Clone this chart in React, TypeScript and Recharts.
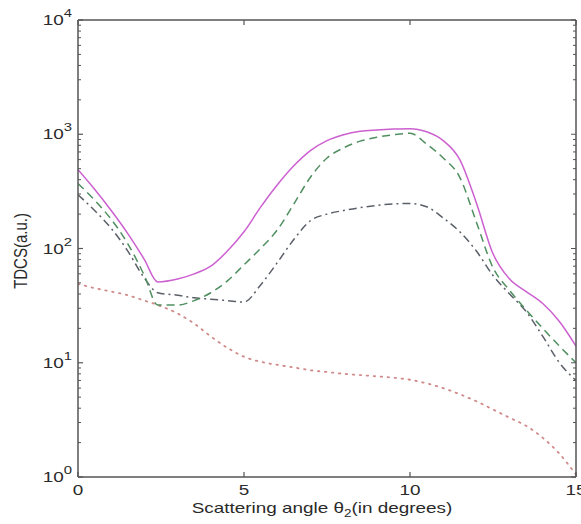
import React from 'react';
import { LineChart, Line, XAxis, YAxis } from 'recharts';

const angles = [0, 0.5, 1, 1.5, 2, 2.4, 3, 3.5, 4, 4.5, 5, 5.5, 6, 6.5, 7, 7.5, 8, 8.5, 9, 9.5, 10, 10.5, 11, 11.5, 12, 12.5, 13, 13.5, 14, 14.5, 15];
const solidSeries = [490, 330, 215, 135, 80, 51, 54, 60, 70, 95, 140, 230, 360, 530, 720, 880, 990, 1060, 1090, 1110, 1120, 1050, 880, 600, 250, 90, 54, 42, 33, 23, 14];
const dashedSeries = [370, 265, 180, 110, 58, 32, 32, 35, 41, 52, 72, 100, 145, 245, 420, 620, 760, 870, 940, 990, 1020, 820, 620, 420, 170, 68, 43, 29, 20, 14, 10];
const dashDotSeries = [295, 215, 150, 95, 55, 41, 39, 37, 36, 35, 34, 48, 75, 120, 175, 200, 215, 228, 238, 246, 248, 232, 185, 140, 95, 58, 40, 28, 17, 10, 7];
const dottedSeries = [49, 45, 42, 39, 35, 32, 27, 22, 17, 13.5, 11.3, 10.2, 9.6, 9.1, 8.6, 8.3, 8.0, 7.8, 7.6, 7.4, 7.1, 6.6, 6.0, 5.3, 4.6, 3.9, 3.3, 2.8, 2.2, 1.6, 1.05];

const xTicks = [0, 5, 10, 15];
const yMajorTicks = [1, 10, 100, 1000, 10000];
const yExponents = ['0', '1', '2', '3', '4'];
const yMinorTicks: number[] = [];
[1, 10, 100, 1000].forEach((d) => {
  for (let m = 2; m <= 9; m++) yMinorTicks.push(d * m);
});
const yAllTicks = [...yMajorTicks, ...yMinorTicks].sort((a, b) => a - b);

const data = angles.map((a, i) => ({
  angle: a,
  solid: solidSeries[i],
  dashed: dashedSeries[i],
  dashDot: dashDotSeries[i],
  dotted: dottedSeries[i],
}));

const TEXT = '#2a2a2a';
const AXIS = '#555';
const FONT = '"Liberation Sans", Arial, sans-serif';
const SX = 1.35;

const LeftTick = (props: any) => {
  const { x, y, payload } = props;
  const idx = yMajorTicks.indexOf(payload.value);
  if (idx < 0) {
    return <line x1={x} x2={x + 3} y1={y} y2={y} stroke={AXIS} strokeWidth={1} />;
  }
  return (
    <g>
      <line x1={x} x2={x + 5} y1={y} y2={y} stroke={AXIS} strokeWidth={1.2} />
      <g transform={`translate(${x - 6},${y}) scale(${SX},1)`}>
        <text x={0} y={5} textAnchor="end" fontSize={14} fill={TEXT} fontFamily={FONT}>
          <tspan>10</tspan>
          <tspan dy={-8} fontSize={11}>{yExponents[idx]}</tspan>
        </text>
      </g>
    </g>
  );
};

const RightTick = (props: any) => {
  const { x, y, payload } = props;
  const major = yMajorTicks.indexOf(payload.value) >= 0;
  return <line x1={x - (major ? 5 : 3)} x2={x} y1={y} y2={y} stroke={AXIS} strokeWidth={1} />;
};

const BottomTick = (props: any) => {
  const { x, y, payload } = props;
  return (
    <g>
      <line x1={x} x2={x} y1={y} y2={y - 5} stroke={AXIS} strokeWidth={1.2} />
      <g transform={`translate(${x},${y + 18}) scale(${SX},1)`}>
        <text x={0} y={0} textAnchor="middle" fontSize={14} fill={TEXT} fontFamily={FONT}>
          {payload.value}
        </text>
      </g>
    </g>
  );
};

const TopTick = (props: any) => {
  const { x, y } = props;
  return <line x1={x} x2={x} y1={y} y2={y + 5} stroke={AXIS} strokeWidth={1.2} />;
};

export default function App() {
  return (
    <div style={{ position: 'absolute', left: 0, top: 0, width: 581, height: 524, background: '#fff' }}>
      <LineChart width={581} height={524} data={data} margin={{ top: 19, right: 4, bottom: 0, left: 8 }}>
        <XAxis
          xAxisId="bottom"
          dataKey="angle"
          type="number"
          domain={[0, 15]}
          ticks={xTicks}
          allowDataOverflow
          tickSize={0}
          tickMargin={0}
          tickLine={false}
          axisLine={{ stroke: AXIS, strokeWidth: 1.5 }}
          tick={<BottomTick />}
          height={47}
          interval={0}
        />
        <XAxis
          xAxisId="top"
          dataKey="angle"
          type="number"
          orientation="top"
          domain={[0, 15]}
          ticks={xTicks}
          allowDataOverflow
          tickSize={0}
          tickMargin={0}
          tickLine={false}
          axisLine={{ stroke: AXIS, strokeWidth: 1.5 }}
          tick={<TopTick />}
          height={1}
          interval={0}
        />
        <YAxis
          yAxisId="left"
          scale="log"
          domain={[1, 10000]}
          ticks={yAllTicks}
          allowDataOverflow
          type="number"
          width={70}
          tickSize={0}
          tickMargin={0}
          tickLine={false}
          axisLine={{ stroke: AXIS, strokeWidth: 1.5 }}
          tick={<LeftTick />}
          interval={0}
        />
        <YAxis
          yAxisId="right"
          orientation="right"
          scale="log"
          domain={[1, 10000]}
          ticks={yAllTicks}
          allowDataOverflow
          type="number"
          width={1}
          tickSize={0}
          tickMargin={0}
          tickLine={false}
          axisLine={{ stroke: AXIS, strokeWidth: 1.5 }}
          tick={<RightTick />}
          interval={0}
        />
        <Line xAxisId="bottom" yAxisId="left" type="monotone" dataKey="dotted" stroke="#d08a8a" strokeWidth={1.8} strokeDasharray="1.5 5.5" strokeLinecap="round" dot={false} isAnimationActive={false} />
        <Line xAxisId="bottom" yAxisId="left" type="monotone" dataKey="dashDot" stroke="#5a5f68" strokeWidth={1.5} strokeDasharray="8 4 2 4" dot={false} isAnimationActive={false} />
        <Line xAxisId="bottom" yAxisId="left" type="monotone" dataKey="dashed" stroke="#4f8f60" strokeWidth={1.5} strokeDasharray="8 5" dot={false} isAnimationActive={false} />
        <Line xAxisId="bottom" yAxisId="left" type="monotone" dataKey="solid" stroke="#cc60d0" strokeWidth={1.5} dot={false} isAnimationActive={false} />
      </LineChart>
      <svg width={581} height={524} style={{ position: 'absolute', left: 0, top: 0, pointerEvents: 'none' }}>
        <g transform={`translate(322,513) scale(${SX},1)`}>
          <text x={0} y={0} textAnchor="middle" fontSize={14} fill={TEXT} fontFamily={FONT}>
            Scattering angle θ<tspan dy={4} fontSize={10}>2</tspan><tspan dy={-4}>(in degrees)</tspan>
          </text>
        </g>
        <g transform={`translate(27,251) scale(1.2,1) rotate(-90)`}>
          <text x={0} y={0} textAnchor="middle" fontSize={15} fill={TEXT} fontFamily={FONT}>
            TDCS(a.u.)
          </text>
        </g>
      </svg>
    </div>
  );
}
